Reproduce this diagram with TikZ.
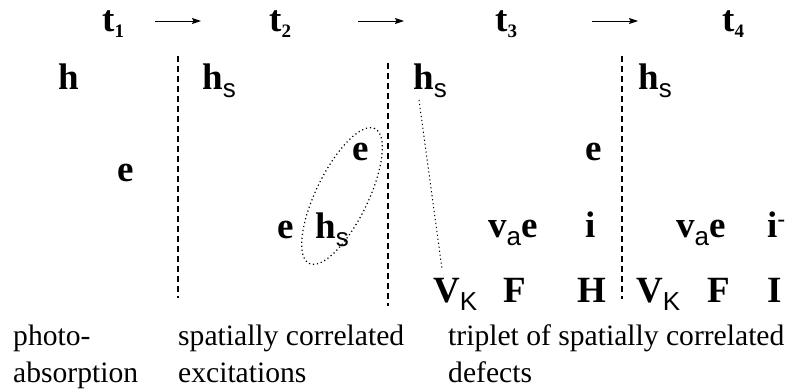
\documentclass[tikz,border=0pt]{standalone}
\usepackage{fontspec}
\setmainfont{Liberation Serif}
\newfontfamily\lblf{Liberation Serif}
\newfontfamily\subf{Liberation Sans}
\usetikzlibrary{arrows.meta,shapes.geometric}
\newcommand\LblFont{\lblf\bfseries\fontsize{37}{37}\selectfont}
\newcommand\Sb[1]{\raisebox{-8pt}{\subf\mdseries\fontsize{26}{26}\selectfont #1}}
\newcommand\Tsb[1]{\raisebox{-6pt}{\lblf\bfseries\fontsize{19}{19}\selectfont #1}}
\newcommand\Sp[1]{\raisebox{10pt}{\subf\mdseries\fontsize{24}{24}\selectfont #1}}
\tikzset{
  lbl/.style={anchor=base west, inner sep=0pt, font=\LblFont},
  txt/.style={anchor=base west, inner sep=0pt, font=\fontsize{29.6}{35}\selectfont},
  sep/.style={line width=1.8pt, dash pattern=on 6pt off 4pt},
  arr/.style={line width=1pt, -{Stealth[length=9pt,width=6pt,inset=1.5pt]}},
  dots/.style={line width=1.2pt, dash pattern=on 1.2pt off 2.8pt},
}
\begin{document}
\begin{tikzpicture}[x=1pt,y=-1pt]
\useasboundingbox (0,0) rectangle (797,389);
% time labels
\node[lbl] (t1) at (102,31) {t\Tsb{1}};
\node[lbl] (t2) at (269,31) {t\Tsb{2}};
\node[lbl] (t3) at (495,31) {t\Tsb{3}};
\node[lbl] (t4) at (722,31) {t\Tsb{4}};
\coordinate (a1s) at (155,21); \coordinate (a1e) at (201,21);
\coordinate (a2s) at (358,21); \coordinate (a2e) at (404,21);
\coordinate (a3s) at (592,21); \coordinate (a3e) at (638,21);
\draw[arr] (a1s) -- (a1e);
\draw[arr] (a2s) -- (a2e);
\draw[arr] (a3s) -- (a3e);
% separators
\coordinate (s1t) at (178,56); \coordinate (s1b) at (178,298);
\coordinate (s2t) at (388,63); \coordinate (s2b) at (388,306);
\coordinate (s3t) at (622,56); \coordinate (s3b) at (622,299);
\draw[sep] (s1t) -- (s1b);
\draw[sep] (s2t) -- (s2b);
\draw[sep] (s3t) -- (s3b);
% stage 1
\node[lbl] (h1) at (58,89) {h};
\node[lbl] (e1) at (117,181) {e};
% stage 2
\node[lbl] (hs2) at (202,89) {h\Sb{s}};
\node[lbl] (e2a) at (352,160) {e};
\node[lbl] (e2b) at (277,238) {e};
\node[lbl] (hs2b) at (315,238) {h\Sb{s}};
\node[draw, ellipse, dots, inner sep=0pt, minimum width=150pt, minimum height=52pt, rotate=64] (ell) at (342,196) {};
% stage 3
\node[lbl] (hs3) at (413,89) {h\Sb{s}};
\node[lbl] (e3) at (585,160) {e};
\node[lbl] (vae3) at (488,237) {v\Sb{a}e};
\node[lbl] (i3) at (585,237) {i};
\node[lbl] (vk3) at (433,302) {V\Sb{K}};
\node[lbl] (f3) at (503,302) {F};
\node[lbl] (hh3) at (577,302) {H};
\coordinate (d1) at (419,100); \coordinate (d2) at (442,269);
\draw[dots, line width=1pt] (d1) -- (d2);
% stage 4
\node[lbl] (hs4) at (638,89) {h\Sb{s}};
\node[lbl] (vae4) at (676,237) {v\Sb{a}e};
\node[lbl] (i4) at (767,237) {i\Sp{-}};
\node[lbl] (vk4) at (636,302) {V\Sb{K}};
\node[lbl] (f4) at (707,302) {F};
\node[lbl] (ii4) at (767,302) {I};
% captions
\node[txt] (c1a) at (13,345) {photo-};
\node[txt] (c1b) at (13,382) {absorption};
\node[txt] (c2a) at (178,345) {spatially correlated};
\node[txt] (c2b) at (178,382) {excitations};
\node[txt] (c3a) at (448,345) {triplet of spatially correlated};
\node[txt] (c3b) at (448,382) {defects};
\end{tikzpicture}
\end{document}
